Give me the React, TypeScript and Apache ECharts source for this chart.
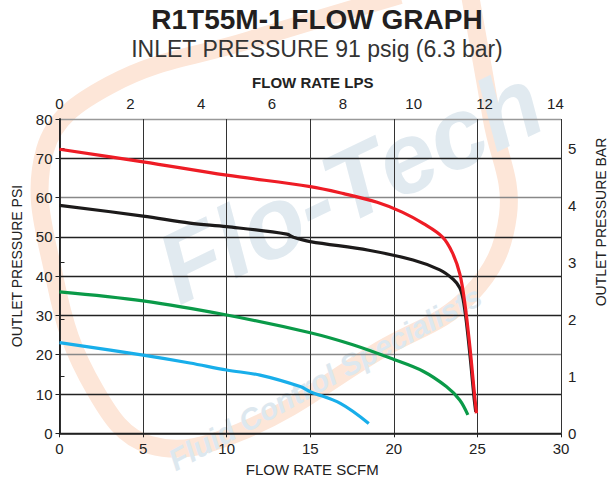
import React, { useEffect, useRef } from "react";
import * as echarts from "echarts";

const TITLE = "R1T55M-1 FLOW GRAPH";
const SUBTITLE = "INLET PRESSURE 91 psig (6.3 bar)";
const X_BOTTOM_NAME = "FLOW RATE SCFM";
const X_TOP_NAME = "FLOW RATE LPS";
const Y_LEFT_NAME = "OUTLET PRESSURE PSI";
const Y_RIGHT_NAME = "OUTLET PRESSURE BAR";

const SCFM_TO_LPS = 0.47195;
const PSI_PER_BAR = 14.5038;

// [SCFM, PSI]
const redCurve: [number, number][] = [
  [0, 72.3], [5, 69.1], [10, 65.7], [15, 62.8], [17, 61], [19, 58.8], [20.5, 56.3],
  [21.8, 53.3], [22.9, 50], [23.5, 46], [23.95, 40.5], [24.25, 33], [24.55, 22],
  [24.8, 11], [24.94, 5.1],
];
const blackCurve: [number, number][] = [
  [0, 58], [5, 55.3], [7.8, 53.5], [10, 52.6], [13.6, 50.7], [14, 49.9], [15, 48.8],
  [18.5, 46.6], [21.15, 44.1], [22.75, 41.6], [23.55, 39.2], [23.95, 37], [24.15, 34],
  [24.35, 28], [24.6, 18], [24.8, 9], [24.9, 5.5],
];
const greenCurve: [number, number][] = [
  [0, 36], [5, 33.7], [10, 30.1], [15, 25.6], [17.5, 22.6], [20, 18.8],
  [21.75, 15.8], [23.14, 11.9], [23.94, 8.5], [24.43, 4.7],
];
const blueCurve: [number, number][] = [
  [0, 23.1], [5, 19.9], [7.8, 17.9], [10, 16.1], [12, 14.8], [14.4, 11.9], [15, 10.6],
  [16.8, 7.6], [18.5, 2.5],
];

const SERIES_COLORS = ["#1c1a1a", "#0a9a48", "#18aeea", "#ee1c25"];
const FONT = "'Liberation Sans', Arial, Helvetica, sans-serif";

export default function App() {
  const ref = useRef<HTMLDivElement>(null);
  useEffect(() => {
    if (!ref.current) return;
    const chart = echarts.init(ref.current, null, { renderer: "svg" });
    const splitColors = ["#222", "#222", "#888", "#222", "#222", "#222", "#888", "#222", "#999"];
    const mk = (name: string, data: [number, number][], color: string, z: number) => ({
      name,
      type: "line",
      data,
      smooth: 0.35,
      showSymbol: false,
      z,
      lineStyle: { color, width: 3.2 },
      itemStyle: { color },
    });
    chart.setOption({
      animation: false,
      backgroundColor: "#ffffff",
      textStyle: { fontFamily: FONT },
      graphic: [
        {
          type: "polyline",
          z: -5,
          silent: true,
          shape: {
            points: [[400, -5], [250, 40], [110, 85], [45, 150], [55, 280], [95, 390], [150, 445], [240, 432], [380, 350], [470, 295], [508, 215], [492, 120], [470, -5]],
            smooth: 0.4,
          },
          style: { stroke: "#fde6d8", lineWidth: 18, fill: null },
        },
        {
          type: "text",
          z: -4,
          silent: true,
          x: 350,
          y: 185,
          rotation: 0.45,
          style: {
            text: "Flo-Tech",
            font: `italic bold 100px ${FONT}`,
            fill: "#e1eaf0",
            align: "center",
            verticalAlign: "middle",
          },
        },
        {
          type: "text",
          z: -4,
          silent: true,
          x: 325,
          y: 378,
          rotation: 0.5,
          style: {
            text: "Fluid Control Specialists",
            font: `italic bold 30px ${FONT}`,
            fill: "#dde8ef",
            align: "center",
            verticalAlign: "middle",
          },
        },
        {
          type: "text",
          x: 317,
          y: 19,
          style: {
            text: TITLE,
            font: `bold 28px ${FONT}`,
            fill: "#231f20",
            align: "center",
            verticalAlign: "middle",
          },
        },
        {
          type: "text",
          x: 317,
          y: 49,
          style: {
            text: SUBTITLE,
            font: `23px ${FONT}`,
            fill: "#333",
            align: "center",
            verticalAlign: "middle",
          },
        },
        {
          type: "text",
          x: 17,
          y: 266,
          rotation: Math.PI / 2,
          style: {
            text: Y_LEFT_NAME,
            font: `14px ${FONT}`,
            fill: "#222",
            align: "center",
            verticalAlign: "middle",
          },
        },
        {
          type: "text",
          x: 601,
          y: 222,
          rotation: Math.PI / 2,
          style: {
            text: Y_RIGHT_NAME,
            font: `14px ${FONT}`,
            fill: "#222",
            align: "center",
            verticalAlign: "middle",
          },
        },
      ],
      grid: { left: 59.5, right: 50, top: 119, bottom: 51.7, containLabel: false },
      xAxis: [
        {
          type: "value",
          position: "bottom",
          min: 0,
          max: 30,
          interval: 5,
          name: X_BOTTOM_NAME,
          nameLocation: "middle",
          nameGap: 29,
          nameTextStyle: { fontFamily: FONT, fontSize: 15, color: "#222", verticalAlign: "top", padding: [0, 0, 0, 4] },
          axisLine: { show: true, lineStyle: { color: "#222", width: 1.5 } },
          axisTick: { show: true, length: 4, lineStyle: { color: "#222" } },
          axisLabel: { fontFamily: FONT, fontSize: 15, color: "#222", margin: 8 },
          splitLine: { show: true, lineStyle: { color: "#333", width: 1 } },
        },
        {
          type: "value",
          position: "top",
          min: 0,
          max: 30 * SCFM_TO_LPS,
          interval: 2,
          name: X_TOP_NAME,
          nameLocation: "middle",
          nameGap: 29,
          nameTextStyle: { fontFamily: FONT, fontSize: 15, fontWeight: "bold", color: "#222", verticalAlign: "bottom", padding: [0, 0, 0, 5] },
          axisLine: { show: false },
          axisTick: { show: false },
          axisLabel: { fontFamily: FONT, fontSize: 15, color: "#222", margin: 8, showMaxLabel: false },
          splitLine: { show: false },
        },
      ],
      yAxis: [
        {
          type: "value",
          position: "left",
          min: 0,
          max: 80,
          interval: 10,
          axisLine: { show: true, lineStyle: { color: "#222", width: 1.5 } },
          axisTick: { show: true, length: 4, lineStyle: { color: "#222" } },
          axisLabel: { fontFamily: FONT, fontSize: 15, color: "#222", margin: 7 },
          splitLine: { show: true, lineStyle: { color: splitColors, width: 1.3 } },
        },
        {
          type: "value",
          position: "right",
          min: 0,
          max: 80 / PSI_PER_BAR,
          interval: 1,
          axisLine: { show: true, lineStyle: { color: "#222", width: 1.5 } },
          axisTick: { show: true, length: 5, lineStyle: { color: "#222" } },
          axisLabel: { fontFamily: FONT, fontSize: 15, color: "#222", margin: 7, showMaxLabel: false },
          splitLine: { show: false },
        },
      ],
      series: [
        mk("Black", blackCurve, SERIES_COLORS[0], 3),
        mk("Green", greenCurve, SERIES_COLORS[1], 4),
        mk("Blue", blueCurve, SERIES_COLORS[2], 5),
        mk("Red", redCurve, SERIES_COLORS[3], 6),
      ],
    });
    return () => chart.dispose();
  }, []);
  return <div ref={ref} style={{ width: 611, height: 485, position: "absolute", left: 0, top: 0 }} />;
}
